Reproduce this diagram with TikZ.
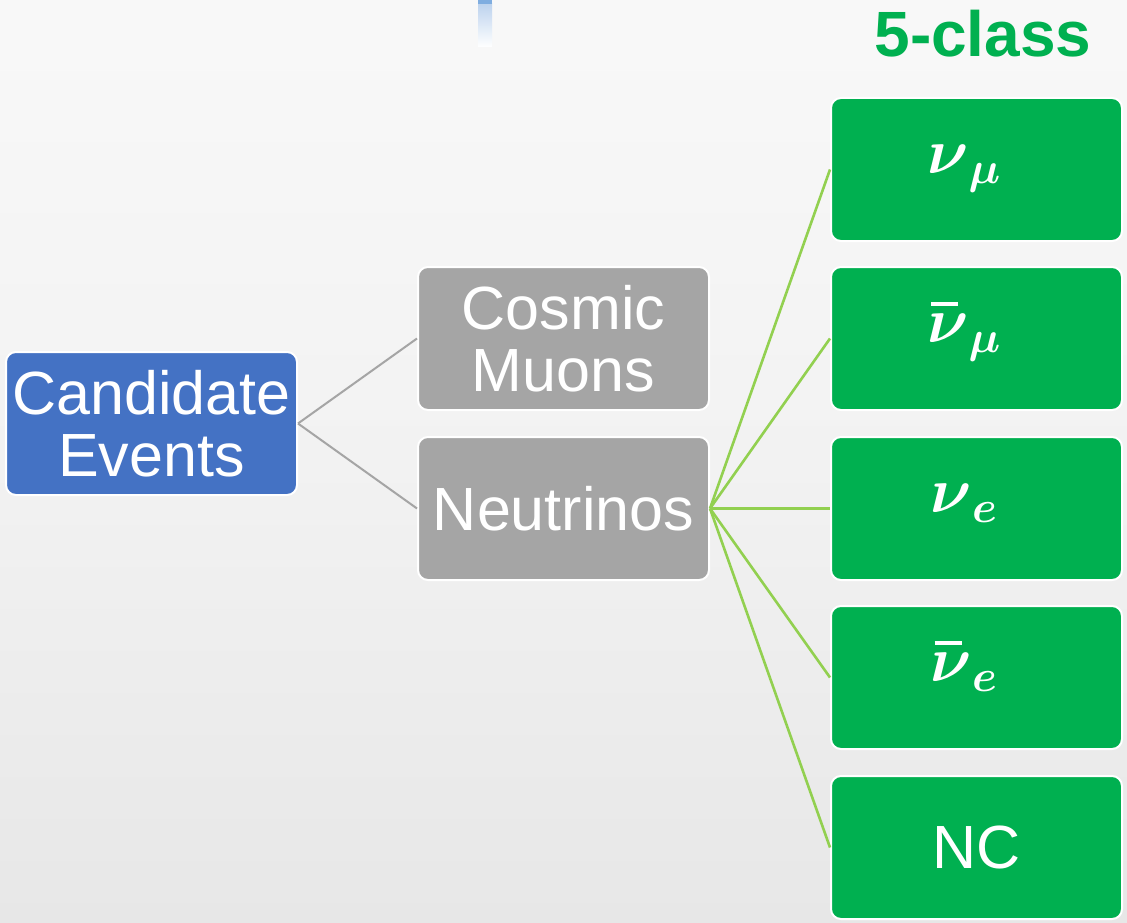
\RequirePackage{fix-cm}
\documentclass[tikz,border=0pt]{standalone}
\usepackage{amsmath}
\usepackage{fontspec}
\setmainfont{Liberation Sans}

\definecolor{evblue}{HTML}{4472C4}
\definecolor{evgray}{HTML}{A5A5A5}
\definecolor{evgreen}{HTML}{00B050}
\definecolor{lnkgreen}{HTML}{92D050}
\definecolor{lnkgray}{HTML}{A5A5A5}
\definecolor{barblue}{HTML}{7FADE0}
\definecolor{barlight}{HTML}{BDD3EE}
\definecolor{bgbot}{HTML}{DCDCDC}
\definecolor{bgmid}{HTML}{F2F2F2}

\pgfdeclareverticalshading{pagebg}{100bp}{color(0bp)=(bgbot); color(50bp)=(bgmid); color(100bp)=(white)}

% bold nu with a high, wide antiparticle bar
\newcommand{\antinu}{\rlap{\hspace{4pt}\raisebox{37pt}{\rule{27pt}{3.5pt}}}\boldsymbol{\nu}}

\tikzset{
  box/.style={rounded corners=10pt, draw=white, line width=2pt,
    minimum width=291pt, minimum height=143pt, inner sep=0pt,
    text=white, align=center, font=\fontsize{61}{62}\selectfont},
  rootbox/.style={box, fill=evblue},
  midbox/.style={box, fill=evgray},
  leafbox/.style={box, fill=evgreen},
  mathleaf/.style={leafbox, text height=20pt, text depth=12pt,
    font=\fontsize{64}{72}\selectfont},
  graylink/.style={draw=lnkgray, line width=2pt},
  greenlink/.style={draw=lnkgreen, line width=2.6pt},
}

\begin{document}
\begin{tikzpicture}[x=1pt, y=-1pt]
  % page background
  \shade[shading=pagebg] (0,0) rectangle (1127,923);
  \useasboundingbox (0,0) rectangle (1127,923);

  % fading bar at the top edge
  \shade[top color=barlight, bottom color=white] (478,4) rectangle (492,47);
  \fill[barblue] (478,0) rectangle (492,4);

  % title
  \node[anchor=base, text=evgreen, font=\fontsize{64}{72}\selectfont\bfseries]
    (title) at (983,57) {5-class};

  % tree nodes
  \node[rootbox] (cand) at (151.5,423.5) {Candidate\\Events};
  \node[midbox] (cosmic) at (563.5,338.5) {Cosmic\\Muons};
  \node[midbox] (nu) at (563.5,508.5) {Neutrinos};

  \node[mathleaf] (numu)    at (976.5,169.5) {$\boldsymbol{\nu}_{\boldsymbol{\mu}}$\hspace{25pt}};
  \node[mathleaf] (numubar) at (976.5,338.5) {$\antinu_{\boldsymbol{\mu}}$\hspace{25pt}};
  \node[mathleaf] (nue)     at (976.5,508.5) {$\boldsymbol{\nu}_{\boldsymbol{e}}$\hspace{25pt}};
  \node[mathleaf] (nuebar)  at (976.5,677.5) {$\antinu_{\boldsymbol{e}}$\hspace{25pt}};
  \node[leafbox]  (nc)      at (976.5,847.5) {NC};

  % connectors
  \path[graylink] (cand.east) -- (cosmic.west);
  \path[graylink] (cand.east) -- (nu.west);
  \foreach \leaf in {numu, numubar, nue, nuebar, nc}
    \path[greenlink] (nu.east) -- (\leaf.west);
\end{tikzpicture}
\end{document}
